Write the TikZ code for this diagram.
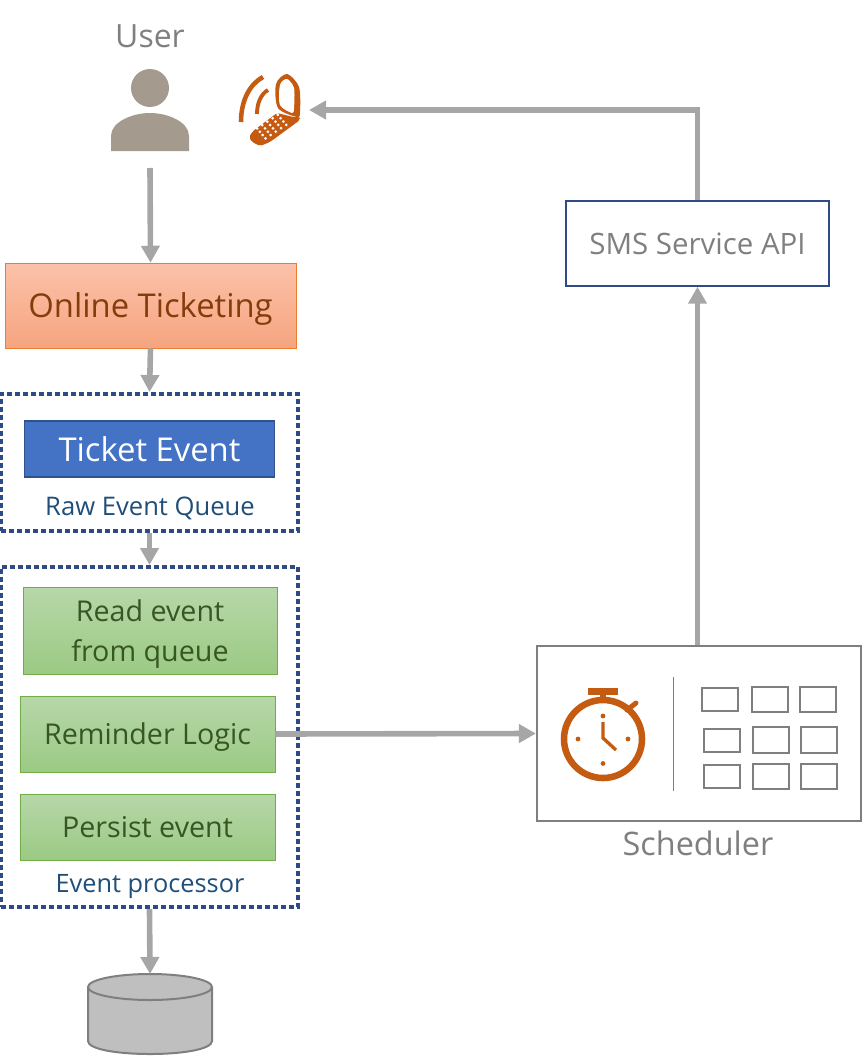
\documentclass[tikz,border=0pt]{standalone}
\usepackage{fontspec}
\setmainfont{Open Sans}
\usetikzlibrary{arrows.meta}
\definecolor{flowgray}{HTML}{A6A6A6}
\definecolor{textgray}{HTML}{7F7F7F}
\definecolor{navy}{HTML}{2F4A85}
\definecolor{iconorange}{HTML}{C55A11}
\definecolor{persongray}{HTML}{A59A8E}
\definecolor{green1}{HTML}{B7D7A9}
\definecolor{green2}{HTML}{9BCA84}
\definecolor{greenline}{HTML}{70AD47}
\definecolor{greentext}{HTML}{375623}
\definecolor{orange1}{HTML}{FBC2AA}
\definecolor{orange2}{HTML}{F6A47F}
\definecolor{orangeline}{HTML}{ED7D31}
\definecolor{brown1}{HTML}{843C0C}
\definecolor{blue1}{HTML}{2F528F}
\definecolor{blue2}{HTML}{4472C4}
\definecolor{rawtext}{HTML}{1F4E79}
\definecolor{dbgray}{HTML}{BFBFBF}
\tikzset{
	flow/.style={draw=flowgray, line width=4.2pt, -{Triangle[width=13.5pt,length=12.75pt]}},
	box/.style={inner sep=0pt, align=center, text depth=0pt, font=\fontsize{#1}{30}\selectfont},
	greenbox/.style={box=21.5, draw=greenline, top color=green1, bottom color=green2, text=greentext},
	queuebox/.style={draw=navy, line width=3pt, dash pattern=on 3.75pt off 2.25pt, inner sep=0pt},
	caption/.style={inner sep=0pt, text=#1},
	slot/.style={draw=textgray, line width=1.6pt, inner sep=0pt, minimum width=27.5pt}
}
\begin{document}
\begin{tikzpicture}[x=.75pt, y=-.75pt]
	\useasboundingbox (0,0) rectangle (862,1056);
	% left column
	\node[caption=textgray, font=\fontsize{24}{30}\selectfont] (user) at (150,36) {User};
	\fill[persongray] (150,88) circle (19);
	\fill[persongray] (111,151) -- (111,136) .. controls (111,122) and (132,113) .. (150,113) .. controls (168,113) and (189,122) .. (189,136) -- (189,151) -- cycle;
	\coordinate (userfoot) at (150,168);
	\node[box=24.6, minimum width=218.25pt, minimum height=63.75pt, draw=orangeline, top color=orange1, bottom color=orange2, text=brown1] (online) at (150.5,305.5) {Online Ticketing};
	\node[queuebox, minimum width=222.75pt, minimum height=102.75pt] (rawq) at (149.5,462.5) {};
	\node[box=24.6, minimum width=187.5pt, minimum height=42pt, draw=blue1, line width=1pt, fill=blue2, text=white] (ticket) at (149.5,449) {Ticket Event};
	\node[caption=rawtext, font=\fontsize{19.2}{23}\selectfont] (rawlabel) at (150,508.5) {Raw Event Queue};
	\node[queuebox, minimum width=222.75pt, minimum height=255pt] (proc) at (149.5,737) {};
	\node[greenbox, minimum width=190.5pt, minimum height=65.25pt] (read) at (150,630.5) {Read event\\from queue};
	\node[greenbox, minimum width=191.25pt, minimum height=57pt] (logic) at (147.5,734) {Reminder Logic};
	\node[greenbox, minimum width=191.25pt, minimum height=49.5pt] (persist) at (147.5,827) {Persist event};
	\node[caption=rawtext, font=\fontsize{19}{23}\selectfont] (proclabel) at (150,886) {Event processor};
	% database
	\coordinate (dbtop) at (150,974);
	\filldraw[draw=textgray, line width=1.5pt, fill=dbgray] (88,987) -- (88,1041) .. controls (88,1049) and (116,1054) .. (150,1054) .. controls (184,1054) and (212,1049) .. (212,1041) -- (212,987);
	\filldraw[draw=textgray, line width=1.5pt, fill=dbgray] (150,987) ellipse [x radius=62, y radius=13];
	% right column
	\node[box=22.1, minimum width=197.25pt, minimum height=63.75pt, draw=navy, line width=1.1pt, text=textgray] (sms) at (697.5,243.5) {SMS Service API};
	\node[draw=textgray, line width=1.6pt, inner sep=0pt, minimum width=243pt, minimum height=131.25pt] (sched) at (699,733.5) {};
	\node[caption=textgray, font=\fontsize{24.3}{30}\selectfont] (schedlabel) at (698,843) {Scheduler};
	% stopwatch
	\draw[iconorange, line width=4.9pt] (603,739) circle (39);
	\fill[iconorange] (588,688) rectangle (618,695);
	\fill[iconorange] (599.5,695) rectangle (606,702);
	\draw[iconorange, line width=3.75pt, line cap=round] (627,710) -- (636,703);
	\foreach \dotx/\doty in {603/716, 603/763.5, 578/739, 628/739}
		\fill[iconorange] (\dotx,\doty) circle (2.4);
	\draw[iconorange, line width=2.5pt] (603,722) -- (603,738) -- (616,750);
	\draw[textgray, line width=1pt] (673.7,677) -- (673.7,791);
	% slots of the schedule
	\foreach \sx/\sy/\sh in {720/699.3/17.5, 770/699.3/19, 818/699.3/19, 722/740.5/17.5, 771/740/19.5, 819/740/19.5, 722/776.3/17.5, 771/776.3/19, 819/776.3/19}
		\node[slot, minimum height=\sh pt] at (\sx,\sy) {};
	% phone
	\draw[iconorange, line width=3.4pt] (241,122) .. controls (241,100) and (250,84) .. (263,77);
	\draw[iconorange, line width=2.9pt] (257,114) .. controls (257,103) and (261,94) .. (268,90);
	\fill[iconorange] plot[smooth cycle] coordinates {(276,84) (287,74) (299,87) (300,112) (297,117) (278,108)};
	\fill[white] plot[smooth cycle] coordinates {(280,85) (287,79) (294,88) (294,108) (292,113) (280,105)};
	\fill[iconorange, rounded corners=1.5pt] (249,137) -- (253,131) -- (277,113) -- (293,117) -- (300,117) -- (300,120) -- (270,142) -- (260,146) -- (252,142) -- cycle;
	\foreach \i in {0,...,4}
		\foreach \j in {0,...,3}
			\fill[white] ({257+\i*5.2+\j*2.8},{128.5-\i*3.4+\j*3.3}) circle (1.5);
	\coordinate (phone) at (309,110);
	% connectors
	\draw[flow] (userfoot) -- (online.north);
	\draw[flow] (online.south) -- (rawq.north);
	\draw[flow] (rawq.south) -- (proc.north);
	\draw[flow] (proc.south) -- (dbtop);
	\draw[flow] (logic.east) -- (sched.west);
	\draw[flow] (sched.north-|sms) -- (sms.south);
	\draw[flow] (sms.north) |- (phone);
\end{tikzpicture}
\end{document}
